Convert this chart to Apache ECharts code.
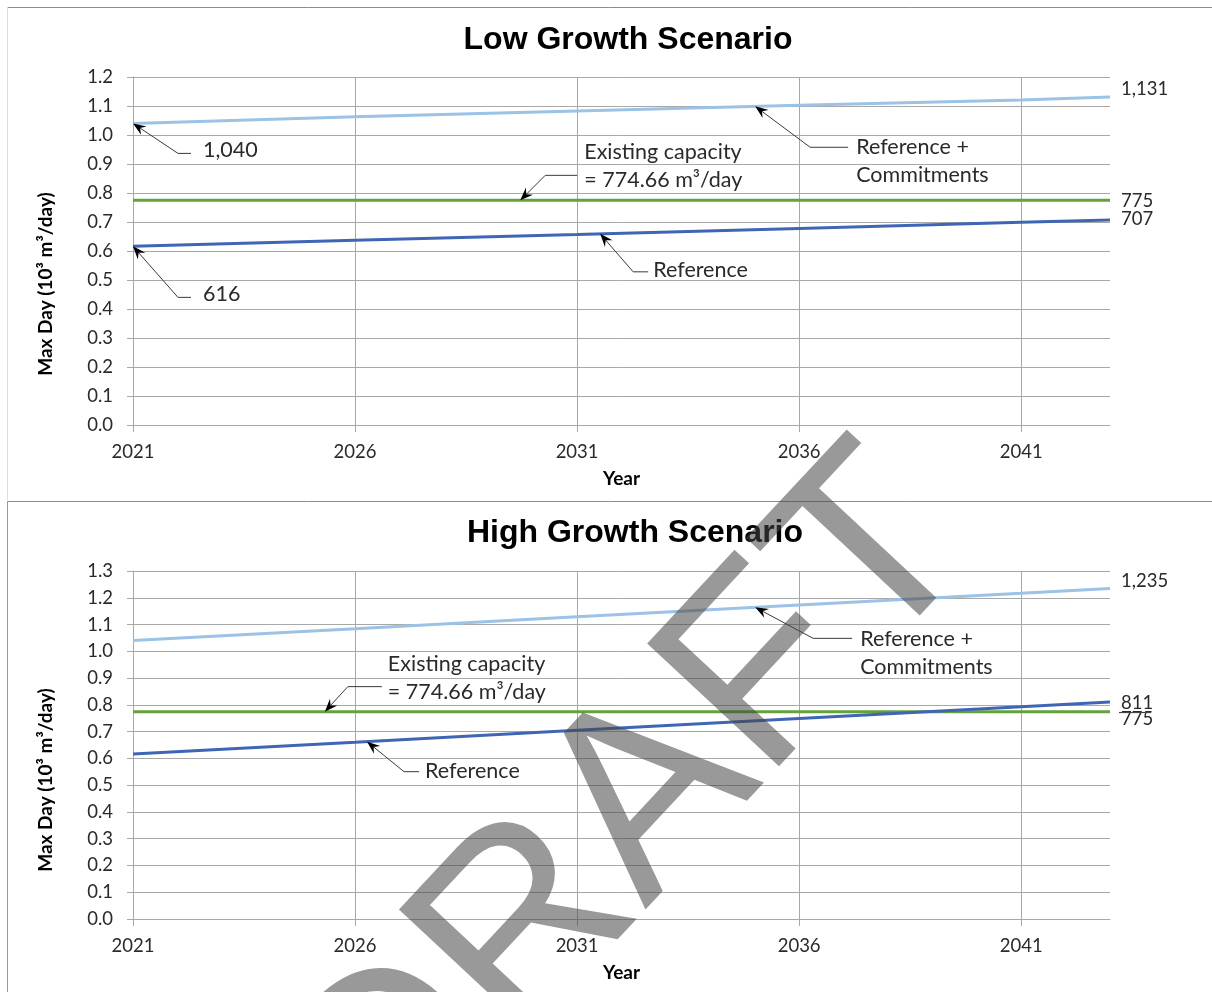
<!DOCTYPE html>
<html><head><meta charset="utf-8">
<script src="https://cdn.jsdelivr.net/npm/echarts@6/dist/echarts.min.js"></script>
<style>html,body{margin:0;padding:0;background:#fff}#c{width:1212px;height:992px}</style>
</head><body><div id="c"></div>
<script>
// ---- data ----
const categories = ['2021','2022','2023','2024','2025','2026','2027','2028','2029','2030','2031','2032','2033','2034','2035','2036','2037','2038','2039','2040','2041','2042','2043'];
const pointYears = ['2021','2026','2031','2036','2041','2043'];
const lowRefCommit   = [1.040, 1.063, 1.083, 1.103, 1.121, 1.131];
const lowReference   = [0.616, 0.637, 0.657, 0.678, 0.699, 0.707];
const lowCapacity    = [0.77466, 0.77466, 0.77466, 0.77466, 0.77466, 0.77466];
const highRefCommit  = [1.040, 1.084, 1.129, 1.173, 1.217, 1.235];
const highReference  = [0.616, 0.660, 0.705, 0.749, 0.793, 0.811];
const highCapacity   = [0.77466, 0.77466, 0.77466, 0.77466, 0.77466, 0.77466];
const titles = ['Low Growth Scenario', 'High Growth Scenario'];
const yMax = [1.2, 1.3];
const xName = 'Year';
const yName = 'Max Day (10\u00b3 m\u00b3/day)';
const capacityText = 'Existing capacity\n= 774.66 m\u00b3/day';

// ---- styles ----
const C_LIGHT = '#9cc2e6', C_DARK = '#3f65b5', C_GREEN = '#64a23c';
const GRID_C = '#a8a8a8', TXT = '#2a2a2a';
const FONT = 'Lato, "Open Sans", sans-serif';

const chart = echarts.init(document.getElementById('c'), null, {renderer: 'canvas'});

function fmtK(v){ return Math.round(v*1000).toLocaleString('en-US'); }
function mkData(vals){ return pointYears.map((y,i)=>[y, vals[i]]); }

const gridTops = [77, 571];
function xAxis(i){
  return {
    type:'category', gridIndex:i, data:categories, boundaryGap:false,
    axisLine:{show:true, lineStyle:{color:GRID_C, width:1}},
    axisTick:{show:true, interval:4, length:7, lineStyle:{color:GRID_C}},
    axisLabel:{interval:4, fontFamily:FONT, fontSize:18.5, color:TXT, margin:18},
    splitLine:{show:true, interval:4, lineStyle:{color:GRID_C, width:1}},
    name:xName, nameLocation:'middle', nameGap:44,
    nameTextStyle:{fontFamily:FONT, fontWeight:'bold', fontSize:19, color:'#000'}
  };
}
function yAxis(i, shift){
  return {
    type:'value', gridIndex:i, min:0, max:yMax[i], interval:0.1,
    axisLine:{show:true, lineStyle:{color:GRID_C}},
    axisTick:{show:true, length:6, lineStyle:{color:GRID_C}},
    axisLabel:{formatter:v=>v.toFixed(1), fontFamily:FONT, fontSize:18.5, color:TXT, margin:20},
    splitLine:{show:true, lineStyle:{color:GRID_C, width:1}},
    name:yName, nameLocation:'middle', nameGap:78,
    nameTextStyle:{fontFamily:FONT, fontWeight:'bold', fontSize:19, color:'#000', padding:[0, shift*2, 0, 0]}
  };
}
function line(i, vals, color, dy){
  return {
    type:'line', xAxisIndex:i, yAxisIndex:i, data:mkData(vals), symbol:'none',
    lineStyle:{color:color, width:3}, itemStyle:{color:color},
    endLabel:{show:true, formatter:p=>fmtK(p.value[1]), distance:11, offset:[0,dy],
      fontFamily:FONT, fontSize:18.5, color:TXT},
    silent:true
  };
}

const titleStyle = {fontFamily:'"Liberation Sans", Arial, sans-serif', fontWeight:'bold', fontSize:32, color:'#000'};
const option = {
  animation:false,
  backgroundColor:'#fff',
  title:[
    {text:titles[0], left:623, top:19, textAlign:'center', textStyle:titleStyle},
    {text:titles[1], left:630, top:512, textAlign:'center', textStyle:titleStyle}
  ],
  grid:[
    {left:133, right:102, top:gridTops[0], height:348},
    {left:133, right:102, top:gridTops[1], height:348}
  ],
  xAxis:[xAxis(0), xAxis(1)],
  yAxis:[yAxis(0, 33), yAxis(1, 35)],
  series:[
    line(0, lowRefCommit, C_LIGHT, -8),
    line(0, lowCapacity, C_GREEN, 1),
    line(0, lowReference, C_DARK, -1),
    line(1, highRefCommit, C_LIGHT, -7),
    line(1, highCapacity, C_GREEN, 7.5),
    line(1, highReference, C_DARK, 1)
  ]
};
chart.setOption(option);

// ---- annotations (callouts with arrows) ----
const annotations = [
  {g:0, vals:lowRefCommit, year:2021,    dx:45, dy:30, hlen:13, gap:12, top:-17, text:'1,040'},
  {g:0, vals:lowReference, year:2021,    dx:45, dy:51, hlen:13, gap:12, top:-17, text:'616'},
  {g:0, vals:lowCapacity,  year:2029.72, dx:25, dy:-25, hlen:32, gap:7, top:-37, text:capacityText},
  {g:0, vals:lowReference, year:2031.52, dx:33, dy:38, hlen:15, gap:5, top:-16, text:'Reference'},
  {g:0, vals:lowRefCommit, year:2035.01, dx:55, dy:41, hlen:38, gap:8, top:-14, text:'Reference +\nCommitments'},
  {g:1, vals:highCapacity, year:2025.32, dx:23, dy:-25, hlen:34, gap:6, top:-37, text:capacityText},
  {g:1, vals:highReference,year:2026.27, dx:37, dy:30, hlen:15, gap:6, top:-15, text:'Reference'},
  {g:1, vals:highRefCommit,year:2035.01, dx:58, dy:31, hlen:39, gap:8, top:-13, text:'Reference +\nCommitments'}
];
function interp(vals, year){
  const ys = pointYears.map(Number);
  for (let i=0;i<ys.length-1;i++){
    if (year>=ys[i] && year<=ys[i+1]) return vals[i] + (vals[i+1]-vals[i])*(year-ys[i])/(ys[i+1]-ys[i]);
  }
  return vals[vals.length-1];
}
function toPx(g, year, val){
  const a = chart.convertToPixel({xAxisIndex:g, yAxisIndex:g}, [0, val]);
  const b = chart.convertToPixel({xAxisIndex:g, yAxisIndex:g}, [20, val]);
  return [a[0] + (year-2021)/20*(b[0]-a[0]), a[1]];
}
const graphics = [];
annotations.forEach(a=>{
  const T = toPx(a.g, a.year, interp(a.vals, a.year));
  const E = [T[0]+a.dx, T[1]+a.dy];
  const len = Math.hypot(T[0]-E[0], T[1]-E[1]);
  const u = [(T[0]-E[0])/len, (T[1]-E[1])/len];
  const n = [-u[1], u[0]];
  const L = 13, W = 5;
  graphics.push({type:'polyline', silent:true, z:50, shape:{points:[[E[0]+a.hlen, E[1]], E, [T[0]-u[0]*L*0.6, T[1]-u[1]*L*0.6]]},
    style:{stroke:'#3a3a3a', lineWidth:1, fill:null}});
  graphics.push({type:'polygon', silent:true, z:51, shape:{points:[
      T, [T[0]-u[0]*L+n[0]*W, T[1]-u[1]*L+n[1]*W], [T[0]-u[0]*L*0.65, T[1]-u[1]*L*0.65], [T[0]-u[0]*L-n[0]*W, T[1]-u[1]*L-n[1]*W]]},
    style:{fill:'#000'}});
  graphics.push({type:'text', silent:true, z:52, x:E[0]+a.hlen+a.gap, y:E[1]+a.top,
    style:{text:a.text, fontFamily:FONT, fontSize:21.5, fill:TXT, lineHeight:28, align:'left', verticalAlign:'top'}});
});
// underline under the "811" end label
(function(){
  const p = toPx(1, 2043, highCapacity[5]);
  graphics.push({type:'line', silent:true, z:50, shape:{x1:p[0]+9, y1:Math.round(p[1])+0.5, x2:p[0]+41, y2:Math.round(p[1])+0.5}, style:{stroke:'#444', lineWidth:1.2}});
})();
// chart frames
graphics.push({type:'line', silent:true, shape:{x1:7, y1:7.5, x2:1212, y2:7.5}, style:{stroke:'#8c8c8c', lineWidth:1}});
graphics.push({type:'line', silent:true, shape:{x1:7.5, y1:7, x2:7.5, y2:500}, style:{stroke:'#dcdcdc', lineWidth:1}});
graphics.push({type:'line', silent:true, shape:{x1:7, y1:501.5, x2:1212, y2:501.5}, style:{stroke:'#8c8c8c', lineWidth:1}});
graphics.push({type:'line', silent:true, shape:{x1:7.5, y1:501, x2:7.5, y2:992}, style:{stroke:'#9a9a9a', lineWidth:1}});
// DRAFT watermark
graphics.push({type:'text', silent:true, z:100, x:632, y:818, rotation:47*Math.PI/180,
  style:{text:'DRAFT', fontFamily:'"Liberation Sans", Arial, sans-serif', fontSize:262, fill:'rgba(70,70,70,0.55)', align:'center', verticalAlign:'middle'}});
chart.setOption({graphic:graphics});
</script>
</body></html>
